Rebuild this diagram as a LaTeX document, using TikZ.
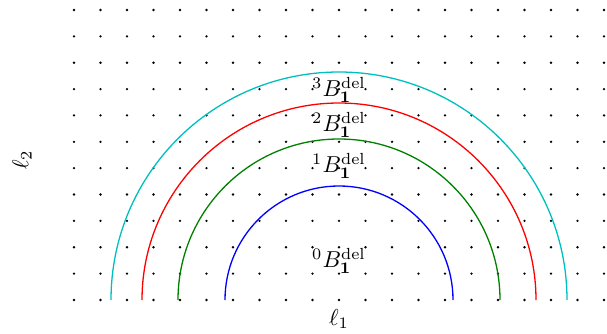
\documentclass[tikz,border=0pt]{standalone}
\usepackage{amsmath}
\begin{document}
\begin{tikzpicture}[x=1pt,y=1pt,
  dotmark/.style={circle,fill=black,inner sep=0pt,minimum size=2.6pt},
  arcline/.style={line width=1.3pt},
  lab/.style={inner sep=0pt}]
\useasboundingbox (0,0) rectangle (607,333);
\definecolor{cyanc}{rgb}{0,0.75,0.75}
\definecolor{greenc}{rgb}{0,0.5,0}
% dot grid
\foreach \i in {0,...,11}{
  \foreach \j in {0,...,20}{
    \node[dotmark] at ({74+26.5*\j},{333-10-26.36*\i}) {};
  }
}
% arcs
\draw[arcline,blue] (339-114,33) arc[start angle=180,end angle=0,radius=114];
\draw[arcline,greenc] (339-161,33) arc[start angle=180,end angle=0,radius=161];
\draw[arcline,red] (339-197,33) arc[start angle=180,end angle=0,radius=197];
\draw[arcline,cyanc] (339-228,33) arc[start angle=180,end angle=0,radius=228];
% labels
\node[lab] (b3) at (339,243) {\scalebox{2.3}{${}^3B_{\mathbf{1}}^{\mathrm{del}}$}};
\node[lab] (b2) at (339,208) {\scalebox{2.3}{${}^2B_{\mathbf{1}}^{\mathrm{del}}$}};
\node[lab] (b1) at (339,167) {\scalebox{2.3}{${}^1B_{\mathbf{1}}^{\mathrm{del}}$}};
\node[lab] (b0) at (339,72) {\scalebox{2.3}{${}^0B_{\mathbf{1}}^{\mathrm{del}}$}};
\node[lab] (l1) at (339,14) {\scalebox{2.3}{$\ell_1$}};
\node[lab,rotate=90] (l2) at (22,173) {\scalebox{2.3}{$\ell_2$}};
\end{tikzpicture}
\end{document}
